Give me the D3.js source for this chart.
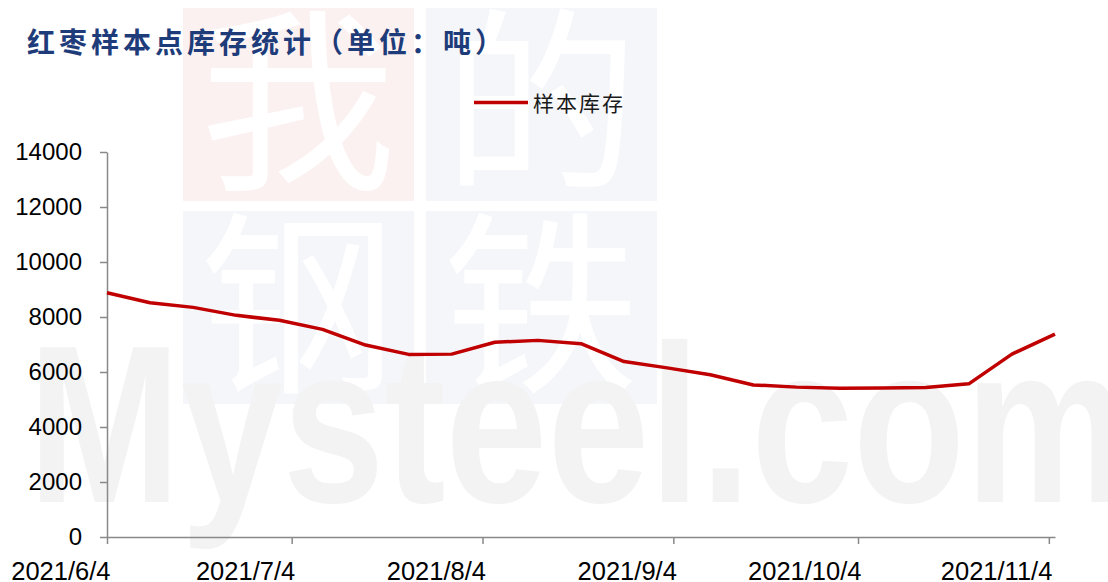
<!DOCTYPE html>
<html>
<head>
<meta charset="utf-8">
<script src="https://cdn.jsdelivr.net/npm/d3@7"></script>
<style>
  body { margin: 0; background: #fff; }
  svg { display: block; }
</style>
</head>
<body>
<div id="chart"></div>
<script>
// weekly sample-point stock
var dates = ["2021-06-04", "2021-06-11", "2021-06-18", "2021-06-25", "2021-07-02", "2021-07-09",
             "2021-07-16", "2021-07-23", "2021-07-30", "2021-08-06", "2021-08-13", "2021-08-20",
             "2021-08-27", "2021-09-03", "2021-09-10", "2021-09-17", "2021-09-24", "2021-10-01",
             "2021-10-08", "2021-10-15", "2021-10-22", "2021-10-29", "2021-11-05"];
var stock = [8880, 8520, 8350, 8060, 7880, 7550,
             6980, 6640, 6650, 7080, 7150, 7030,
             6380, 6150, 5900, 5530, 5450, 5410,
             5420, 5440, 5570, 6650, 7380];
var xTicks = ["2021-06-04", "2021-07-04", "2021-08-04", "2021-09-04", "2021-10-04", "2021-11-04"];
var yTicks = [0, 2000, 4000, 6000, 8000, 10000, 12000, 14000];
var seriesName = "样本库存";
var title = "红枣样本点库存统计（单位：吨）";

var w = 1108, h = 582;
var parse = d3.timeParse("%Y-%m-%d");
var fmt = d3.timeFormat("%Y/%-m/%-d");
var data = dates.map(function(d, i) { return {date: parse(d), value: stock[i]}; });

var svg = d3.select("#chart")
    .append("svg")
    .attr("width", w)
    .attr("height", h);

// watermark
var wm = svg.append("g");
var boxes = [
    {x: 183, y: 8, fill: "#fcf1f1", ch: "我"},
    {x: 426, y: 8, fill: "#f4f6fa", ch: "的"},
    {x: 183, y: 211, fill: "#f4f6fa", ch: "钢"},
    {x: 426, y: 211, fill: "#f4f6fa", ch: "铁"}
];
wm.selectAll("rect")
    .data(boxes)
    .enter()
    .append("rect")
    .attr("x", function(d) { return d.x; })
    .attr("y", function(d) { return d.y; })
    .attr("width", 231)
    .attr("height", 193)
    .attr("fill", function(d) { return d.fill; });
wm.selectAll("text.ch")
    .data(boxes)
    .enter()
    .append("text")
    .attr("class", "ch")
    .attr("x", function(d) { return d.x + 115; })
    .attr("y", function(d) { return d.y + 166; })
    .attr("text-anchor", "middle")
    .style("font-family", "'Noto Sans CJK SC'")
    .style("font-size", "196px")
    .attr("fill", "#fff")
    .text(function(d) { return d.ch; });
wm.append("text")
    .attr("x", 28)
    .attr("y", 502)
    .attr("textLength", 1100)
    .attr("lengthAdjust", "spacingAndGlyphs")
    .style("font-family", "'Liberation Sans', Arial, sans-serif")
    .style("font-weight", "bold")
    .style("font-size", "224px")
    .attr("fill", "#f3f3f3")
    .text("Mysteel.com");

// scales
var x = d3.scaleTime()
    .domain([parse("2021-06-04"), parse("2021-11-05")])
    .range([107, 1055]);
var y = d3.scaleLinear()
    .domain([0, 14000])
    .range([537, 152]);

// X axis
var xAxis = svg.append("g")
    .attr("transform", "translate(0,537)")
    .call(d3.axisBottom(x)
        .tickValues(xTicks.map(parse))
        .tickFormat(fmt)
        .tickSize(7)
        .tickSizeOuter(0));
xAxis.select(".domain").attr("stroke", "#898989").attr("stroke-width", 1.5);
xAxis.selectAll(".tick line").attr("stroke", "#898989").attr("stroke-width", 1.5);
xAxis.selectAll("text")
    .attr("y", 43)
    .attr("dy", 0)
    .attr("x", 3)
    .style("text-anchor", "end")
    .style("font-family", "'Liberation Sans', Arial, sans-serif")
    .style("font-size", "25.5px")
    .attr("fill", "#000");

// Y axis
var yAxis = svg.append("g")
    .attr("transform", "translate(107,0)")
    .call(d3.axisLeft(y)
        .tickValues(yTicks)
        .tickFormat(d3.format("d"))
        .tickSize(7)
        .tickSizeOuter(0)
        .tickPadding(18));
yAxis.select(".domain").attr("stroke", "#898989").attr("stroke-width", 1.5);
yAxis.selectAll(".tick line").attr("stroke", "#898989").attr("stroke-width", 1.5);
yAxis.selectAll("text")
    .style("font-family", "'Liberation Sans', Arial, sans-serif")
    .style("font-size", "24px")
    .attr("fill", "#000");

// line
var line = d3.line()
    .x(function(d) { return x(d.date); })
    .y(function(d) { return y(d.value); });
svg.append("path")
    .datum(data)
    .attr("d", line)
    .attr("fill", "none")
    .attr("stroke", "#c00000")
    .attr("stroke-width", 3.5)
    .attr("stroke-linejoin", "round");

// legend
svg.append("line")
    .attr("x1", 474).attr("x2", 528)
    .attr("y1", 102.5).attr("y2", 102.5)
    .attr("stroke", "#c00000")
    .attr("stroke-width", 3.5);
svg.append("text")
    .attr("x", 533)
    .attr("y", 102)
    .attr("dominant-baseline", "central")
    .style("font-family", "'Noto Sans CJK SC'")
    .style("font-size", "21px")
    .style("letter-spacing", "2px")
    .attr("fill", "#1a1a1a")
    .text(seriesName);

// title
svg.append("text")
    .attr("x", 27)
    .attr("y", 41)
    .attr("dominant-baseline", "central")
    .style("font-family", "'Noto Sans CJK SC'")
    .style("font-weight", "bold")
    .style("font-size", "28px")
    .style("letter-spacing", "4px")
    .attr("fill", "#1f3c7a")
    .text(title);
</script>
</body>
</html>
